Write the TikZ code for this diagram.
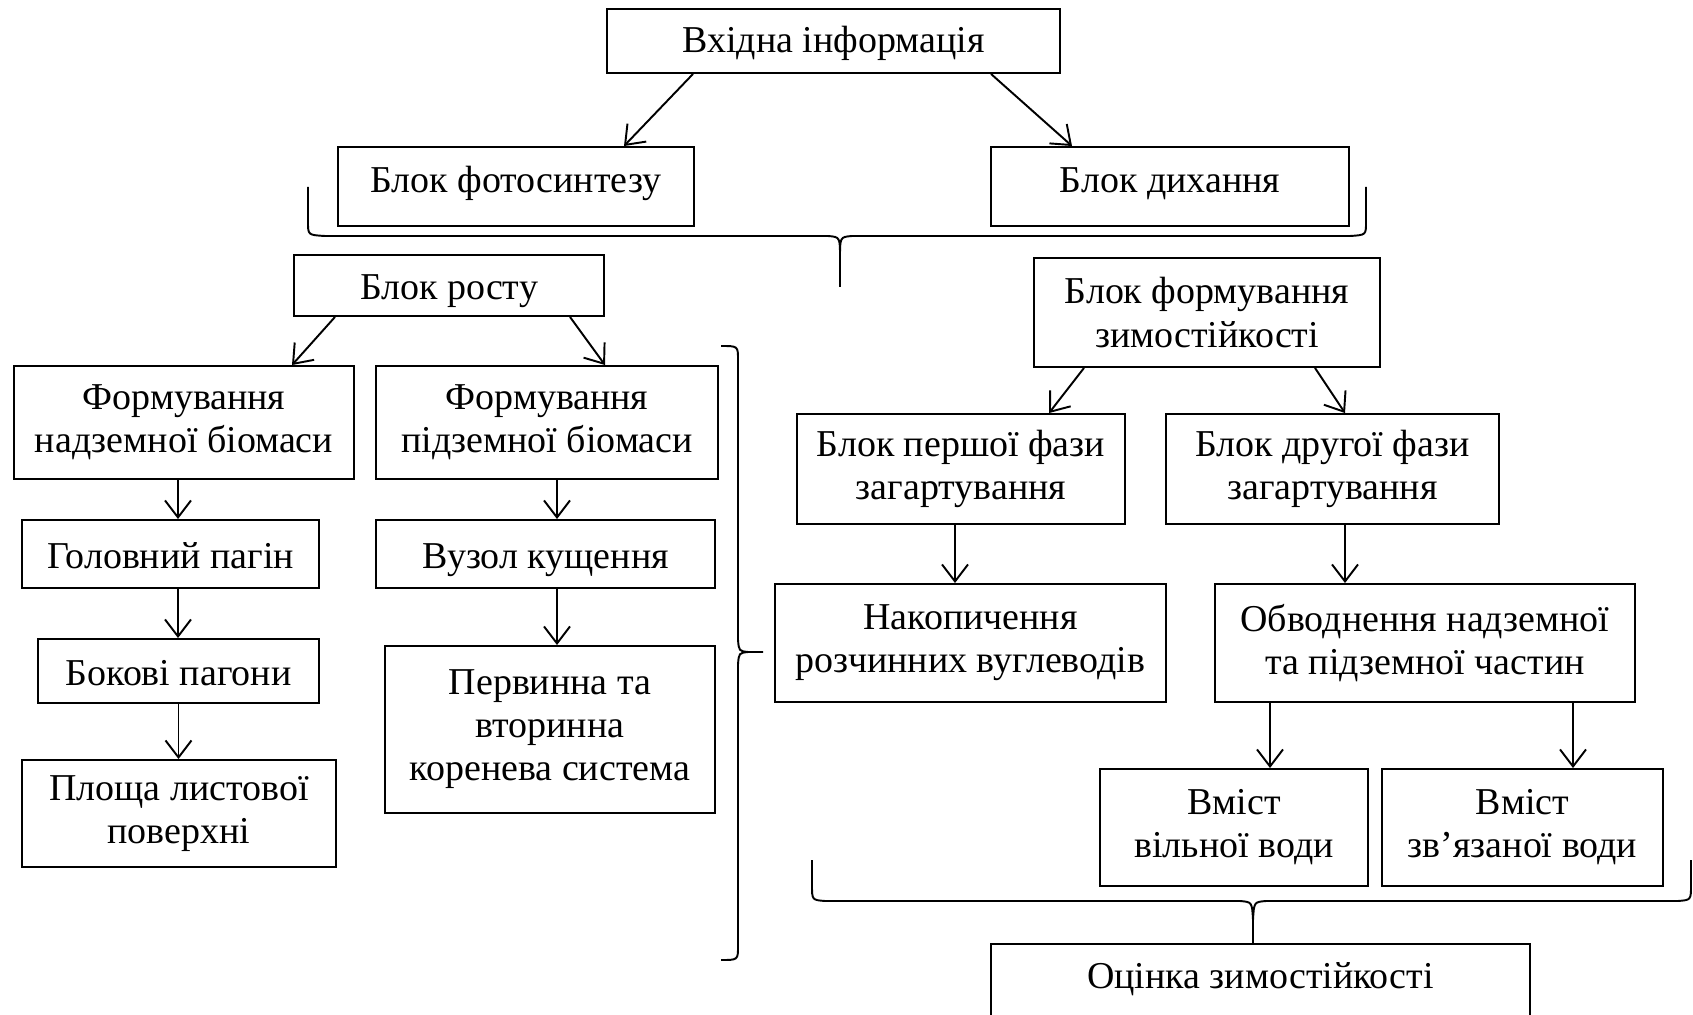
\documentclass[tikz,border=0pt]{standalone}
\usepackage{fontspec}
\setmainfont{Liberation Serif}
\usetikzlibrary{arrows.meta}
\begin{document}
\begin{tikzpicture}[b/.style={draw, line width=1.1pt, inner sep=0pt, align=center, font=\fontsize{21.6}{24.5}\selectfont},
    one/.style={b, text height=20pt, text depth=4pt},
    arr/.style={line width=1.1pt, -{Straight Barb[length=0.34cm, width=0.52cm]}}]
  \useasboundingbox (0,0) rectangle (33.86,-20.3);
  \draw node[one, text depth=6.4pt, minimum width=9.06cm, minimum height=1.28cm] (inp) at (16.67,-0.82) {Вхідна інформація};
  \draw node[one, text depth=12.6pt, minimum width=7.12cm, minimum height=1.58cm] (ph) at (10.32,-3.73) {Блок фотосинтезу};
  \draw node[one, text depth=12.6pt, minimum width=7.16cm, minimum height=1.58cm] (re) at (23.40,-3.73) {Блок дихання};
  \draw node[one, minimum width=6.2cm, minimum height=1.22cm] (gr) at (8.98,-5.71) {Блок росту};
  \draw node[b, minimum width=6.92cm, minimum height=2.18cm] (wf) at (24.14,-6.25) {Блок формування\\зимостійкості};
  \draw node[b, minimum width=6.8cm, minimum height=2.26cm] (ab) at (3.68,-8.45) {Формування\\надземної біомаси};
  \draw node[b, minimum width=6.84cm, minimum height=2.26cm] (bb) at (10.94,-8.45) {Формування\\підземної біомаси};
  \draw node[one, minimum width=5.94cm, minimum height=1.36cm] (ms) at (3.41,-11.08) {Головний пагін};
  \draw node[one, minimum width=5.62cm, minimum height=1.28cm] (ls) at (3.57,-13.42) {Бокові пагони};
  \draw node[b, minimum width=6.28cm, minimum height=2.14cm] (la) at (3.58,-16.27) {Площа листової\\поверхні};
  \draw node[one, minimum width=6.78cm, minimum height=1.36cm] (tn) at (10.91,-11.08) {Вузол кущення};
  \draw node[b, minimum width=6.6cm, minimum height=3.34cm] (rs) at (11.0,-14.59) {Первинна та\\вторинна\\коренева система};
  \draw node[b, minimum width=6.56cm, minimum height=2.2cm] (p1) at (19.22,-9.38) {Блок першої фази\\загартування};
  \draw node[b, minimum width=6.66cm, minimum height=2.2cm] (p2) at (26.65,-9.38) {Блок другої фази\\загартування};
  \draw node[b, minimum width=7.82cm, minimum height=2.36cm] (ca) at (19.41,-12.86) {Накопичення\\розчинних вуглеводів};
  \draw node[b, minimum width=8.4cm, minimum height=2.36cm] (hy) at (28.5,-12.86) {Обводнення надземної\\та підземної частин};
  \draw node[b, minimum width=5.36cm, minimum height=2.34cm] (fw) at (24.68,-16.55) {Вміст\\вільної води};
  \draw node[b, minimum width=5.62cm, minimum height=2.34cm] (bw) at (30.45,-16.55) {Вміст\\зв’язаної води};
  \draw node[b, anchor=north, minimum width=10.78cm, text height=0.9cm, text depth=1.2cm] (ev) at (25.21,-18.86) {Оцінка зимостійкості};

  \foreach \a/\sa/\b/\sb in {inp/-2.81/ph/2.16, inp/3.15/re/-1.96, gr/-2.28/ab/2.16, gr/2.42/bb/1.16, wf/-2.46/p1/1.76, wf/2.16/p2/0.25}
  \draw[arr] ([xshift=\sa cm]\a.south) -- ([xshift=\sb cm]\b.north);
  \foreach \a/\b/\s in {ab/ms/-0.12, ms/ls/0.15, ls/la/0, bb/tn/0.2, tn/rs/0.23, p1/ca/-0.12, p2/hy/0.25, hy/fw/-3.1, hy/bw/2.96}
  \draw[arr] ([xshift=\s cm]\a.south) -- ([xshift=\s cm]\a.south |- \b.north);

  \draw[line width=1.1pt] (6.16,-3.74) -- (6.16,-4.44) .. controls (6.16,-4.70) .. (6.5,-4.72) -- (16.56,-4.72) .. controls (16.8,-4.74) .. (16.8,-5.16) -- (16.8,-5.74)
    (16.8,-5.16) .. controls (16.8,-4.74) .. (17.04,-4.72) -- (27.0,-4.72) .. controls (27.32,-4.70) .. (27.32,-4.44) -- (27.32,-3.74);
  \draw[line width=1.1pt] (14.42,-6.92) .. controls (14.76,-6.92) .. (14.76,-7.2) -- (14.76,-12.8) .. controls (14.78,-13.02) .. (14.96,-13.04) -- (15.26,-13.04)
    (14.96,-13.04) .. controls (14.78,-13.06) .. (14.76,-13.28) -- (14.76,-18.92) .. controls (14.76,-19.2) .. (14.42,-19.2);
  \draw[line width=1.1pt] (16.24,-17.2) -- (16.24,-17.7) .. controls (16.24,-18.0) .. (16.5,-18.02) -- (24.8,-18.02) .. controls (25.04,-18.04) .. (25.06,-18.4) -- (25.06,-18.86)
    (25.06,-18.4) .. controls (25.08,-18.04) .. (25.32,-18.02) -- (33.56,-18.02) .. controls (33.82,-18.0) .. (33.82,-17.7) -- (33.82,-17.2);
\end{tikzpicture}
\end{document}
